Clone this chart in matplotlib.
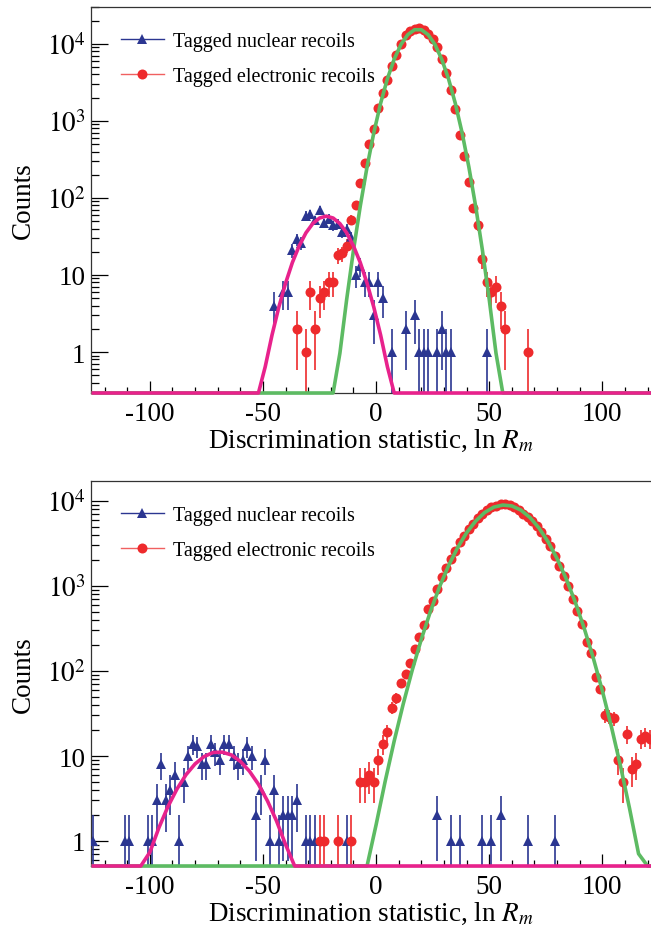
import numpy as np
import matplotlib
matplotlib.use('Agg')
import matplotlib.pyplot as plt
from matplotlib.lines import Line2D
from matplotlib.ticker import FixedLocator, LogLocator, MultipleLocator, FuncFormatter, NullFormatter

plt.rcParams['font.family'] = ['Liberation Serif', 'DejaVu Serif']
plt.rcParams['mathtext.fontset'] = 'stix'
plt.rcParams['axes.unicode_minus'] = False

# ---- top panel data (bin centres, counts) ----
top_nr_x = [-45, -41, -39, -37, -35, -33, -31, -29, -27, -25, -23, -21, -19, -17, -15, -13,
            -11, -9, -7, -5, -3, -1, 1, 3, 7, 13, 17, 19, 21, 23, 27, 29, 31, 33, 49]
top_nr_n = [4, 6, 6, 21, 29, 26, 59, 61, 51, 70, 47, 54, 44, 46, 36, 39,
            31, 10, 13, 8, 8, 3, 8, 5, 1, 2, 3, 1, 1, 1, 1, 2, 1, 1, 1]

top_er_x = [-35, -31, -29, -27, -25, -23, -21, -19, -17, -15, -13, -11, -9, -7, -5, -3, -1,
            1, 3, 5, 7, 9, 11, 13, 15, 17, 19, 21, 23, 25, 27, 29, 31, 33, 35, 37, 39,
            41, 43, 45, 47, 49, 51, 53, 55, 57, 67]
top_er_n = [2, 1, 6, 2, 5, 6, 8, 8, 18, 19, 24, 52, 81, 156, 283, 500, 790,
            1450, 2300, 3380, 5150, 7200, 10000, 12900, 14500, 15500, 15800, 14900, 13500,
            11400, 9100, 6300, 4200, 2550, 1410, 660, 347,
            160, 73, 44, 16, 8, 6, 7, 4, 2, 1]

top_fit_nr_x = [-52, -49, -46, -43, -40, -37, -34, -31, -28, -25, -22, -19, -16, -13, -10,
                -7, -4, -1, 2, 5, 8]
top_fit_nr_y = [0.224, 0.644, 1.66, 3.81, 7.83, 14.5, 23.8, 35.2, 46.4, 54.8, 58, 54.8,
                46.4, 35.2, 23.8, 14.5, 7.83, 3.81, 1.66, 0.644, 0.224]

top_fit_er_x = [-19, -16, -13, -10, -7, -4, -1, 2, 5, 8, 11, 14, 17, 20, 23, 26, 29, 32,
                35, 38, 41, 44, 47, 50, 53, 56]
top_fit_er_y = [0.166, 0.964, 4.82, 20.9, 78.0, 252, 702, 1690, 3516, 6310, 9795, 13120,
                15210, 15210, 13120, 9795, 6310, 3516, 1690, 702, 252, 78.0, 20.9, 4.82,
                0.964, 0.166]

# ---- bottom panel data ----
bot_nr_x = [-125, -111, -109, -101, -99, -97, -95, -93, -91, -89, -87, -85, -83, -81, -79,
            -77, -75, -73, -71, -69, -67, -65, -63, -61, -59, -57, -55, -53, -51, -49, -47,
            -45, -43, -41, -39, -37, -35, -31, -29, -27, -13, 27, 33, 37, 47, 51, 55, 67, 79]
bot_nr_n = [1, 1, 1, 1, 1, 3, 8, 3, 4, 6, 1, 5, 10, 14, 13,
            8, 8, 14, 11, 9, 14, 14, 10, 8, 9, 13, 10, 2, 4, 9, 1,
            4, 1, 2, 2, 2, 3, 1, 1, 1, 1, 2, 1, 1, 1, 1, 2, 1, 1]

bot_er_x = [-25, -23, -17, -11, -7, -5, -3, -1, 1, 3, 5, 7, 9, 11, 13, 15, 17, 19, 21, 23,
            25, 27, 29, 31, 33, 35, 37, 39, 41, 43, 45, 47, 49, 51, 53, 55, 57, 59, 61, 63,
            65, 67, 69, 71, 73, 75, 77, 79, 81, 83, 85, 87, 89, 91, 93, 95, 97, 99, 101,
            103, 105, 107, 109, 111, 113, 115, 117, 119, 121]
bot_er_n = [1, 1, 1, 1, 5, 5, 6, 5, 9, 14, 19, 37, 48, 72, 93, 124, 181, 253, 345, 530,
            665, 922, 1260, 1620, 2090, 2600, 3320, 3850, 4680, 5370, 6240, 7080, 7790, 8400,
            8800, 9150, 9300, 8900, 8400, 7790,
            7080, 6440, 5750, 5130, 4350, 3550, 2920, 2240, 1700, 1300, 1000, 707, 513, 357,
            221, 163, 86, 62, 30,
            29, 28, 9, 5, 18, 7, 8, 16, 17, 16]

bot_fit_nr_x = [-104, -100, -96, -92, -88, -84, -80, -76, -72, -68, -64, -60, -56, -52, -48,
                -44, -40, -36]
bot_fit_nr_y = [0.345, 0.736, 1.43, 2.54, 4.09, 6.03, 8.07, 9.86, 11.0, 11.1, 10.3, 8.65,
                6.64, 4.65, 2.96, 1.72, 0.908, 0.438]

bot_fit_er_x = [-4, 0, 4, 8, 12, 16, 20, 24, 28, 32, 36, 40, 44, 48, 52, 56, 60, 64, 68, 72,
                76, 80, 84, 88, 92, 96, 100, 104, 108, 112, 116, 120]
bot_fit_er_y = [0.436, 1.55, 5.02, 15.0, 41.0, 103, 237, 501, 973, 1730, 2820, 4230, 5810,
                7330, 8470, 8970, 8750, 7820, 6400, 4810, 3320, 2100, 1220, 649, 317, 142,
                58.5, 22.1, 7.66, 2.43, 0.708, 0.19]

BLUE = '#2b3691'
RED = '#ee2a2c'
MAGENTA = '#e8228c'
GREEN = '#5dbb63'
XLIM = (-126, 121.5)


def fit_line(ax, fx, fy, ylo, color):
    xs = [-125] + list(fx) + [125]
    ys = [ylo] + list(np.maximum(np.array(fy), ylo)) + [ylo]
    ax.plot(xs, ys, color=color, lw=2.6, clip_on=False, zorder=5,
            solid_joinstyle='round')


def points(ax, x, n, color, marker, ms):
    n = np.array(n, dtype=float)
    err = np.sqrt(n)
    lo = np.minimum(err, n * 0.999)
    ax.errorbar(x, n, yerr=[lo, err], fmt=marker, color=color, ms=ms, mew=0,
                elinewidth=1.2, capsize=0, zorder=3)


def yfmt(v, pos):
    labels = {1: '1', 10: '10', 100: '$10^{2}$', 1000: '$10^{3}$', 10000: '$10^{4}$'}
    return labels.get(int(round(v)), '')


def panel(ax, nr_x, nr_n, er_x, er_n, fnr_x, fnr_y, fer_x, fer_y, ylim):
    ax.set_yscale('log')
    ax.set_xlim(*XLIM)
    ax.set_ylim(*ylim)
    points(ax, nr_x, nr_n, BLUE, '^', 7.5)
    points(ax, er_x, er_n, RED, 'o', 7.2)
    fit_line(ax, fer_x, fer_y, ylim[0], GREEN)
    fit_line(ax, fnr_x, fnr_y, ylim[0], MAGENTA)

    ax.yaxis.set_major_locator(FixedLocator([1, 10, 100, 1000, 10000]))
    ax.yaxis.set_major_formatter(FuncFormatter(yfmt))
    ax.yaxis.set_minor_locator(LogLocator(base=10, subs=np.arange(2, 10), numticks=20))
    ax.yaxis.set_minor_formatter(NullFormatter())
    ax.xaxis.set_major_locator(MultipleLocator(50))
    ax.xaxis.set_minor_locator(MultipleLocator(10))

    ax.tick_params(axis='y', which='major', direction='in', length=12, width=0.9,
                   labelsize=19.5, pad=4)
    ax.tick_params(axis='y', which='minor', direction='in', length=6, width=0.9)
    ax.tick_params(axis='x', which='major', direction='in', length=8.5, width=0.9,
                   labelsize=19.5, pad=6)
    ax.tick_params(axis='x', which='minor', direction='in', length=4.3, width=0.9)
    for side in ['left', 'bottom', 'top']:
        ax.spines[side].set_color('#333333')
        ax.spines[side].set_linewidth(0.9)
    ax.spines['right'].set_visible(False)

    ax.set_xlabel('Discrimination statistic, ln $R_m$', fontsize=19.5, labelpad=0)
    ax.set_ylabel('Counts', fontsize=19.5, labelpad=8)

    handles = [Line2D([], [], color=BLUE, marker='^', ms=7.5, mew=0, lw=1.0),
               Line2D([], [], color='#f06060', marker='o', ms=7.2, mew=0, lw=1.0,
                      markerfacecolor=RED)]
    ax.legend(handles, ['Tagged nuclear recoils', 'Tagged electronic recoils'],
              loc='upper left', bbox_to_anchor=(0.054, 0.935), frameon=False,
              fontsize=14.5, handlelength=2.1, handletextpad=0.45, labelspacing=0.78,
              borderpad=0, borderaxespad=0)


fig = plt.figure(figsize=(6.51, 9.28), dpi=100)
ax1 = fig.add_axes([91 / 651, 1 - 394 / 928, 560 / 651, 386 / 928])
ax2 = fig.add_axes([91 / 651, 1 - 867 / 928, 560 / 651, 385 / 928])

panel(ax1, top_nr_x, top_nr_n, top_er_x, top_er_n, top_fit_nr_x, top_fit_nr_y,
      top_fit_er_x, top_fit_er_y, (0.294, 30000))
panel(ax2, bot_nr_x, bot_nr_n, bot_er_x, bot_er_n, bot_fit_nr_x, bot_fit_nr_y,
      bot_fit_er_x, bot_fit_er_y, (0.508, 17200))

fig.savefig('out.png', dpi=100)
